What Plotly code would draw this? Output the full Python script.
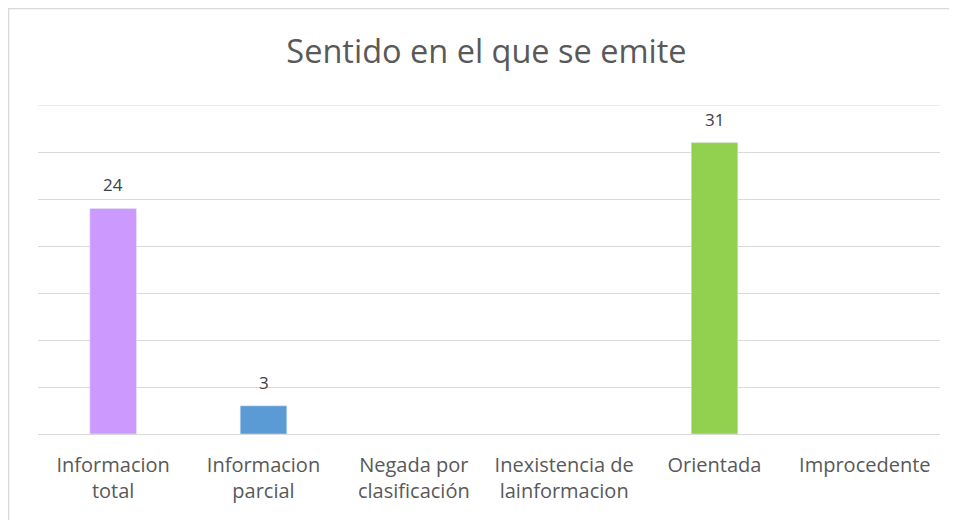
import plotly.graph_objects as go

categories = ["Informacion<br>total", "Informacion<br>parcial", "Negada por<br>clasificación",
              "Inexistencia de<br>lainformacion", "Orientada", "Improcedente"]
values = [24, 3, None, None, 31, None]
labels = ["24", "3", "", "", "31", ""]
colors = ["#CC99FF", "#5B9BD5", "#A5A5A5", "#FFC000", "#92D050", "#ED7D31"]
y_max = 35

fig = go.Figure()
fig.add_trace(go.Bar(
    x=categories, y=values, marker_color=colors, width=0.31,
))

annots = []
for c, v, t in zip(categories, values, labels):
    if v is not None and t:
        annots.append(dict(x=c, y=v, text=t, showarrow=False, yanchor="bottom",
                           yshift=10, font=dict(size=17, color="#404040", family="Open Sans")))

fig.update_layout(
    width=957, height=520,
    margin=dict(l=30, r=25, t=97, b=94),
    paper_bgcolor="white", plot_bgcolor="white",
    showlegend=False,
    annotations=annots,
    title=dict(text="Sentido en el que se emite", x=0.5, xanchor="center",
               y=1 - 44/520, yref="container", yanchor="middle",
               font=dict(size=32.5, color="#595959", family="Open Sans")),
    xaxis=dict(showgrid=False, showline=True, linecolor="#d9d9d9", linewidth=1,
               tickfont=dict(size=20, color="#595959", family="Open Sans"),
               ticks="", ticklabelstandoff=13),
    yaxis=dict(range=[0, y_max], dtick=5, showgrid=True, gridcolor="#d9d9d9",
               showticklabels=False, zeroline=False, ticks=""),
    shapes=[dict(type="rect", xref="paper", yref="paper",
                 x0=-0.0327, x1=1.0166, y0=-0.35, y1=1.2933,
                 line=dict(color="#d9d9d9", width=1.5), fillcolor="rgba(0,0,0,0)"),
            dict(type="line", xref="paper", yref="y", x0=0, x1=1, y0=y_max, y1=y_max,
                 line=dict(color="#d9d9d9", width=1), layer="below")],
)

fig.write_html("out.html")
